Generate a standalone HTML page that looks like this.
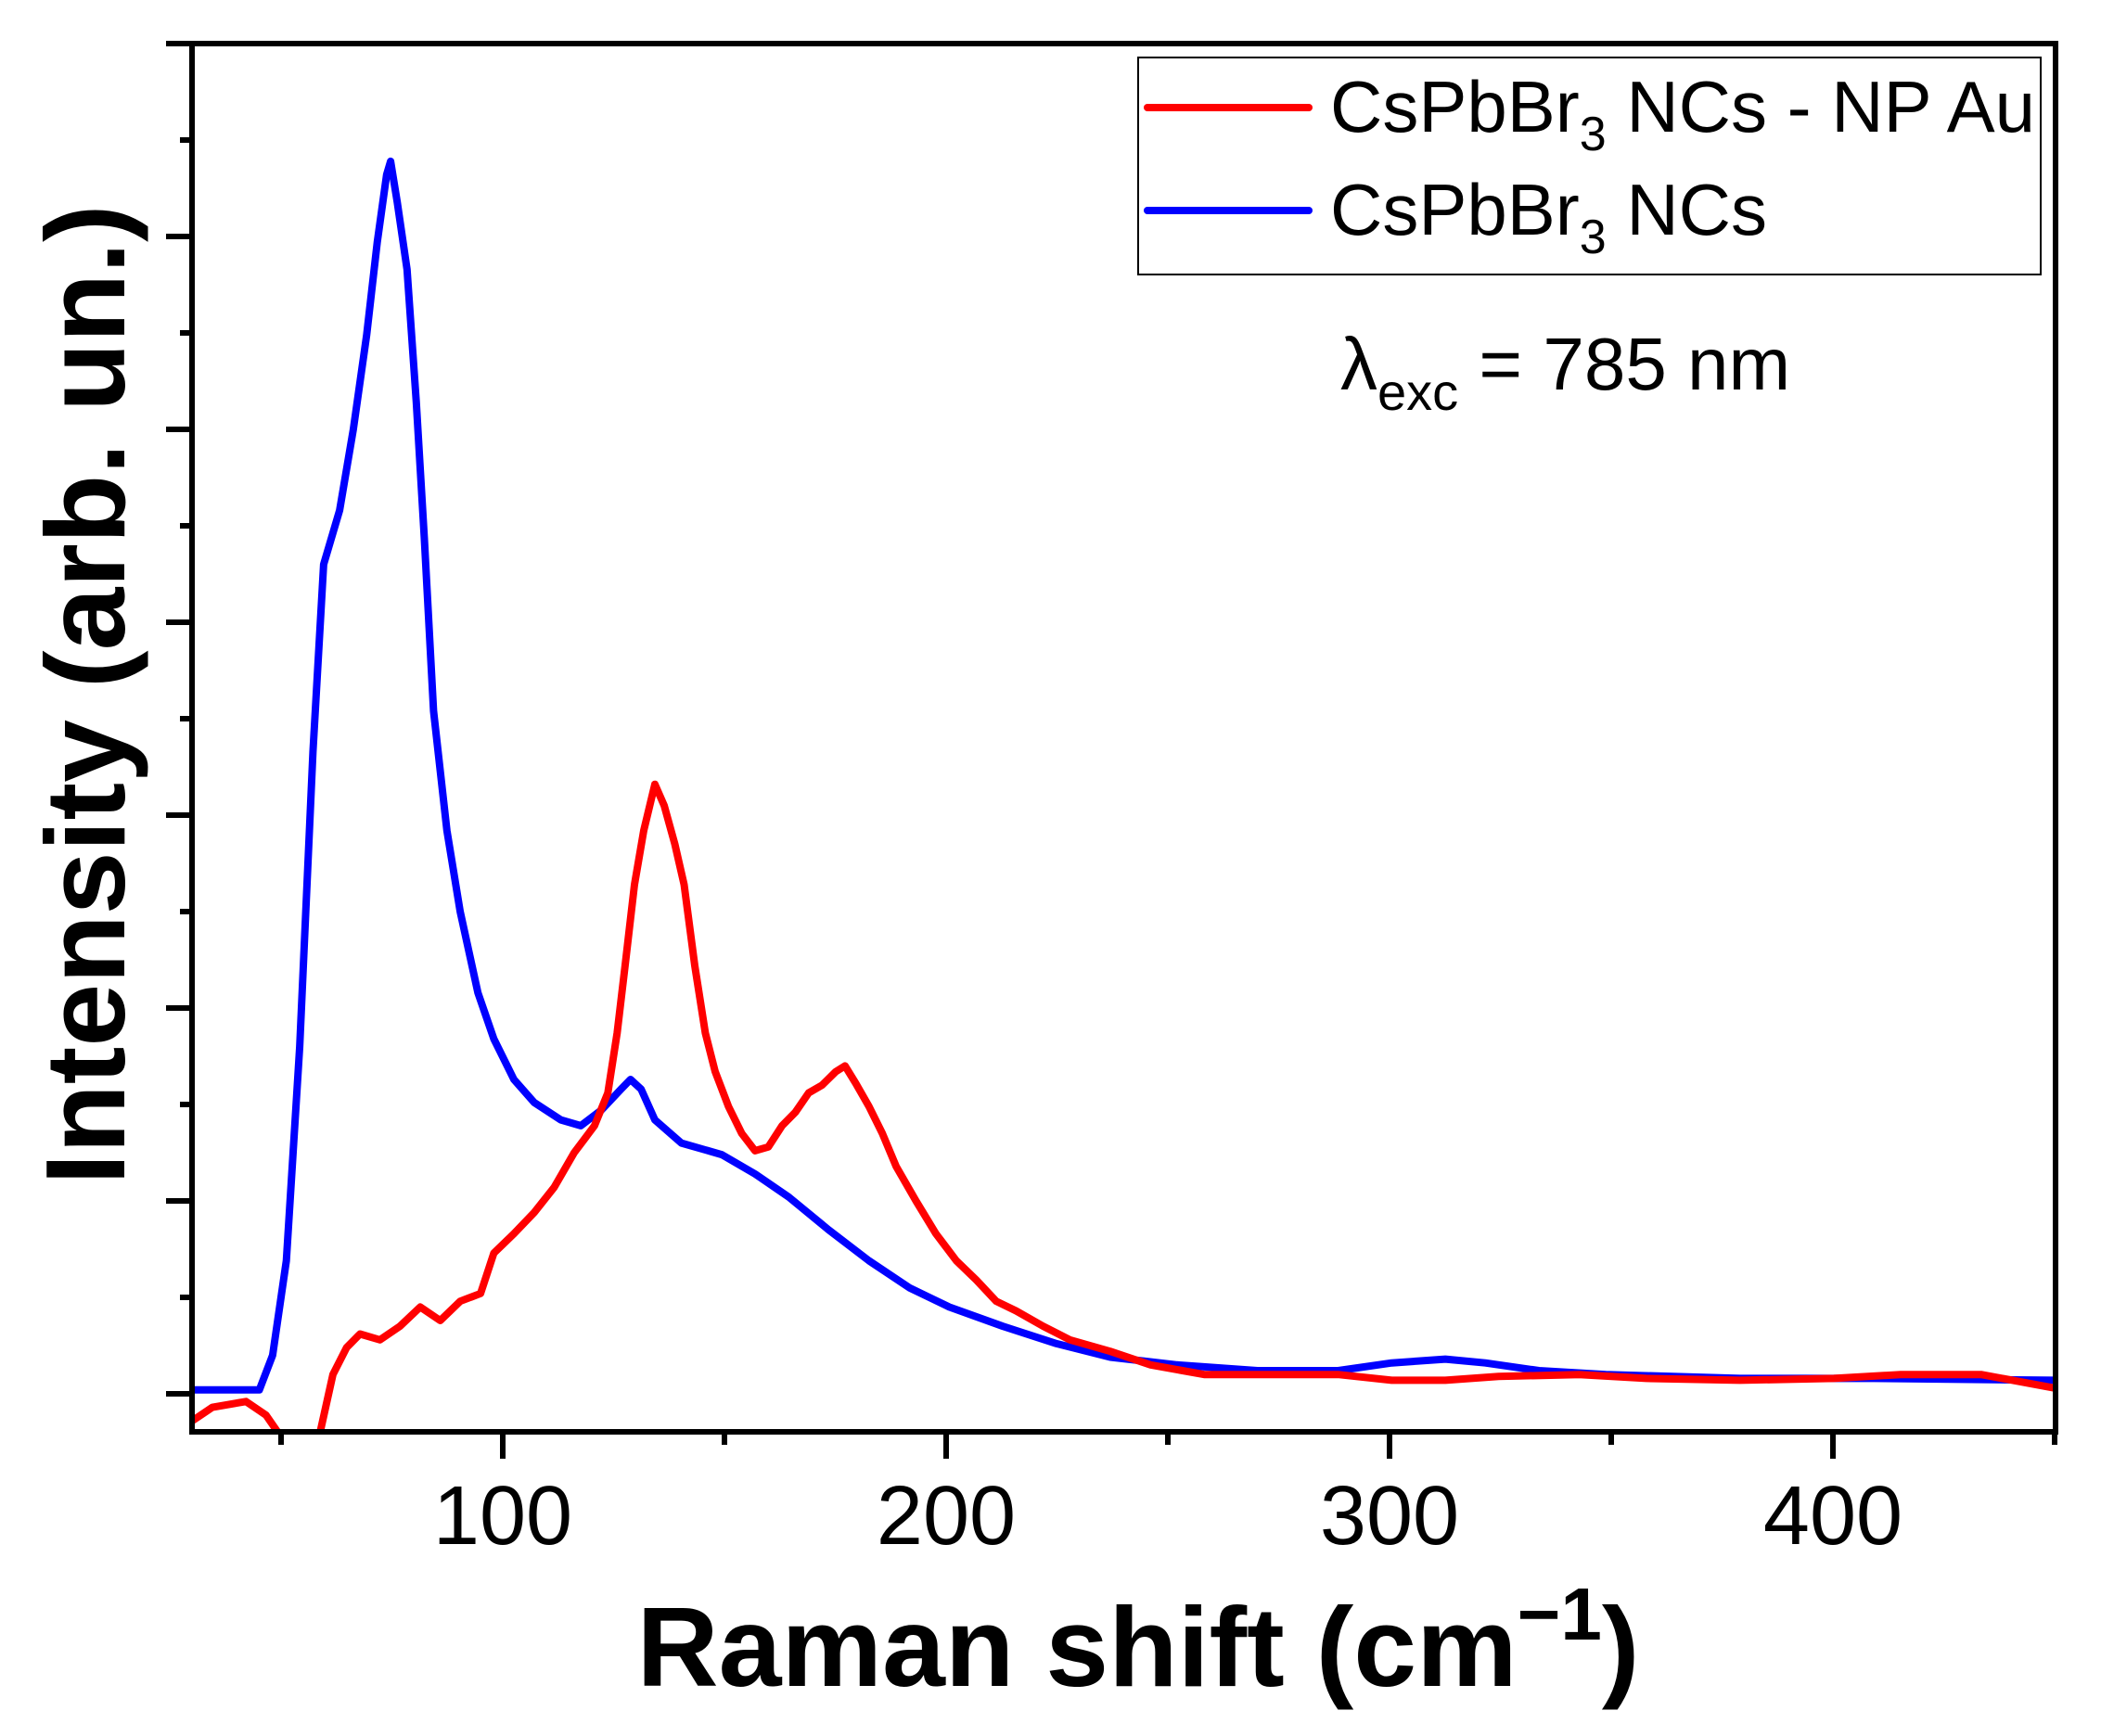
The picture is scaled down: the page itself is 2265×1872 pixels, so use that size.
<!DOCTYPE html>
<html><head><meta charset="utf-8"><style>html,body{margin:0;padding:0;background:#fff}svg{display:block}text{font-family:"Liberation Sans",sans-serif}</style></head>
<body>
<svg id="chart" width="2265" height="1872" viewBox="0 0 2265 1872" xmlns="http://www.w3.org/2000/svg">
<defs><clipPath id="plotclip"><rect x="207" y="47" width="2009" height="1497"/></clipPath></defs>
<rect width="2265" height="1872" fill="#fff"/>
<g id="ticks"></g>
<g clip-path="url(#plotclip)">
<path id="blue" fill="none" stroke="#0000ff" stroke-width="8" stroke-linejoin="round"/>
<path id="red" fill="none" stroke="#ff0000" stroke-width="8" stroke-linejoin="round"/>
</g>
<rect x="207" y="47" width="2009" height="1497" fill="none" stroke="#000" stroke-width="6"/>
<g id="xlabels"></g>
<text x="1227" y="1818" text-anchor="middle" font-size="122" font-weight="bold">Raman shift (cm<tspan font-size="80" dy="-50">−1</tspan><tspan dy="50">)</tspan></text>
<text transform="translate(134,749) rotate(-90)" text-anchor="middle" font-size="122" font-weight="bold">Intensity (arb. un.)</text>
<g>
<rect x="1227" y="62" width="973" height="234" fill="#fff" stroke="#000" stroke-width="2"/>
<line x1="1237" y1="116" x2="1411" y2="116" stroke="#ff0000" stroke-width="8" stroke-linecap="round"/>
<text x="1434" y="142" font-size="78">CsPbBr<tspan font-size="52" dy="20">3</tspan><tspan dy="-20"> NCs - NP Au</tspan></text>
<line x1="1237" y1="227" x2="1411" y2="227" stroke="#0000ff" stroke-width="8" stroke-linecap="round"/>
<text x="1434" y="253" font-size="78">CsPbBr<tspan font-size="52" dy="20">3</tspan><tspan dy="-20"> NCs</tspan></text>
</g>
<text x="1445" y="420" font-size="80">λ<tspan font-size="56" dy="22">exc</tspan><tspan dy="-22"> = 785 nm</tspan></text>
</svg>
<script>
const blueX=[30,45.1,48.1,51.2,54.2,57.2,59.6,63.2,66.3,69.3,71.7,73.8,74.7,76.2,78.4,80.5,82.3,84.4,87.4,90.4,94.4,98,102.5,107.1,113.1,117.6,122.2,126.7,128.8,131.2,134.3,140.3,149.4,156.9,164.5,173.5,182.6,191.7,200.7,212.8,224.9,237,252.1,270.2,288.4,300.5,312.6,321.6,333.7,348.8,379,409.2,450];
const blueY=[0.02,0.02,0.2,0.69,1.8,3.33,4.3,4.58,5.0,5.49,5.97,6.32,6.39,6.18,5.83,5.14,4.44,3.54,2.92,2.5,2.08,1.84,1.63,1.51,1.42,1.39,1.47,1.58,1.63,1.58,1.42,1.3,1.24,1.14,1.02,0.85,0.69,0.55,0.45,0.35,0.26,0.19,0.15,0.12,0.12,0.16,0.18,0.16,0.12,0.1,0.08,0.08,0.07];
const redX=[30,34.5,42.1,46.6,49.6,52,57,58.7,61.7,64.8,67.8,72.3,76.8,81.4,85.9,90.4,95,98,102.5,107.1,111.6,116.1,120.7,123.7,125.8,127.6,129.7,131.8,134.3,136.4,138.8,140.9,143.3,145.7,147.9,150.9,153.9,156.9,159.9,163,166,169,172,175.1,177.2,179.6,182.6,185.6,188.7,193.2,197.7,202.3,206.8,211.3,215.8,221.9,227.9,237,246.1,258.2,276.3,288.4,300.5,312.6,324.6,342.8,357.9,379,400.2,415.3,433.4,450];
const redY=[-0.14,-0.07,-0.04,-0.11,-0.21,-0.5,-0.5,-0.21,0.1,0.24,0.31,0.28,0.35,0.45,0.38,0.48,0.52,0.73,0.83,0.94,1.07,1.25,1.39,1.56,1.87,2.22,2.64,2.92,3.16,3.05,2.85,2.64,2.22,1.87,1.67,1.49,1.35,1.26,1.28,1.39,1.46,1.56,1.6,1.67,1.7,1.61,1.49,1.35,1.18,1.0,0.83,0.69,0.59,0.48,0.43,0.35,0.28,0.22,0.15,0.1,0.1,0.1,0.07,0.07,0.09,0.1,0.08,0.07,0.08,0.1,0.1,0.03];
const xTickLabels=[100,200,300,400];
const xMinor=[50,150,250,350,450];
const yMajor=[0,1,2,3,4,5,6,7];
const yMinor=[0.5,1.5,2.5,3.5,4.5,5.5,6.5];
function xs(v){return 542+(v-100)*4.78;}
function ys(v){return 1503-v*208;}
function pathFrom(X,Y){return X.map((x,i)=>(i?'L':'M')+xs(x).toFixed(1)+','+ys(Y[i]).toFixed(1)).join('');}
document.getElementById('blue').setAttribute('d',pathFrom(blueX,blueY));
document.getElementById('red').setAttribute('d',pathFrom(redX,redY));
const NS='http://www.w3.org/2000/svg';
const tg=document.getElementById('ticks'), lg=document.getElementById('xlabels');
function ln(x1,y1,x2,y2,name){const l=document.createElementNS(NS,'line');l.setAttribute('x1',x1);l.setAttribute('y1',y1);l.setAttribute('x2',x2);l.setAttribute('y2',y2);l.setAttribute('stroke','#000');l.setAttribute('stroke-width','6');


tg.appendChild(l);}
yMajor.forEach(v=>ln(179,ys(v),207,ys(v),'y-major-tick'));
yMinor.forEach(v=>ln(194,ys(v),207,ys(v),'y-minor-tick'));
xTickLabels.forEach(v=>{ln(xs(v),1544,xs(v),1573,'x-major-tick');
const t=document.createElementNS(NS,'text');t.setAttribute('x',xs(v));t.setAttribute('y',1665);t.setAttribute('text-anchor','middle');t.setAttribute('font-size','90');t.textContent=v;


lg.appendChild(t);});
xMinor.forEach(v=>ln(xs(v),1544,xs(v),1558,'x-minor-tick'));
</script>
</body></html>
